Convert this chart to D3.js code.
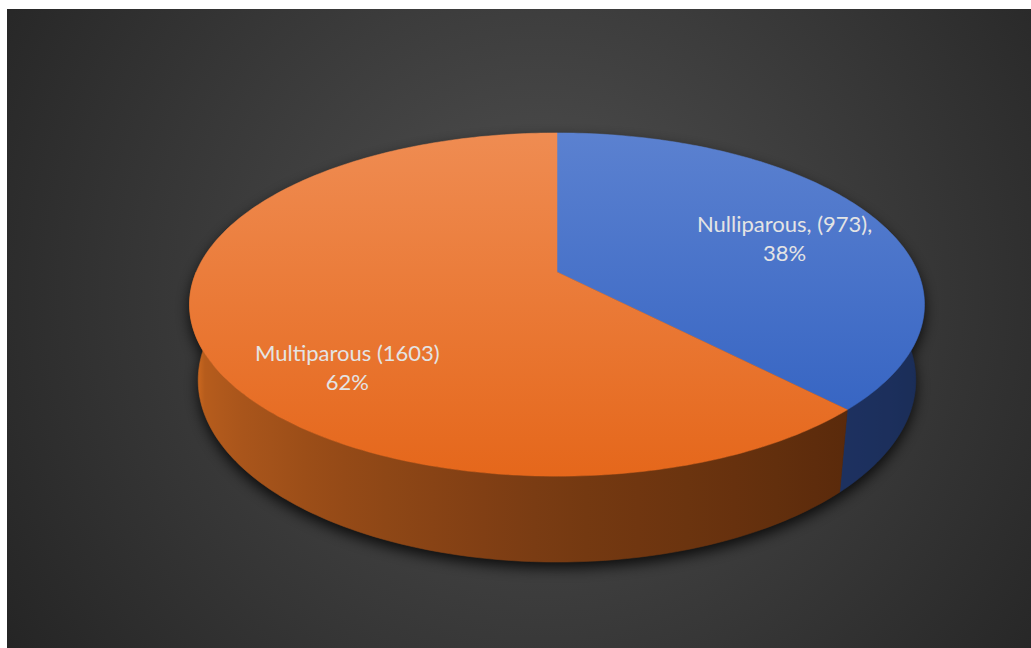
<!DOCTYPE html>
<html>
<head>
<meta charset="utf-8">
<script src="https://cdn.jsdelivr.net/npm/d3@7"></script>
<style>
  html, body { margin: 0; padding: 0; background: #ffffff; }
  svg { display: block; }
  text { font-family: Lato, "Noto Sans", sans-serif; }
</style>
</head>
<body>
<svg id="chart" width="1031" height="648"></svg>
<script>
// ---------------- data ----------------
const categories = ["Nulliparous", "Multiparous"];
const counts = [973, 1603];
const labelFirstLines = ["Nulliparous, (973),", "Multiparous (1603)"];
const percentLabels = ["38%", "62%"];

// ---------------- layout / style ----------------
const W = 1031, H = 648;
const topColors = [["#5b81d0", "#2f5fc0"], ["#ef8c52", "#e5671b"]];
const sideColors = [
  { angles: [Math.PI / 2, 2.4], colors: ["#182a50", "#1d3160"] },
  { angles: [2.39, Math.PI, 3.93, 4.71], colors: ["#5a2a0b", "#773a12", "#a5531a", "#cf6a20"] }
];
// perspective camera (in units of pie radius)
const cam = { cx: 557, cy: 272, f: 1690.7, D: 4.686, phi: 27.3 * Math.PI / 180, h: 0.238 };
const labelLayout = [{ r: 0.715, dx: 0, dy: 2 }, { r: 0.6, dx: 0, dy: 50 }];

const svg = d3.select("#chart");
const defs = svg.append("defs");

// background
const bg = defs.append("radialGradient").attr("id", "bgGrad")
  .attr("gradientUnits", "userSpaceOnUse").attr("cx", 540).attr("cy", 290).attr("r", 640);
bg.append("stop").attr("offset", 0).attr("stop-color", "#515151");
bg.append("stop").attr("offset", 1).attr("stop-color", "#252525");
svg.append("rect").attr("x", 7).attr("y", 9).attr("width", W - 7).attr("height", H - 9)
  .attr("fill", "url(#bgGrad)");

// projection
const s = Math.sin(cam.phi), c = Math.cos(cam.phi);
function project(theta, r, y) {
  const X = r * Math.sin(theta), Z = -r * Math.cos(theta), Y = y;
  const u = X, v = Y * c - Z * s, w = cam.D - Y * s - Z * c;
  return [cam.cx + cam.f * u / w, cam.cy - cam.f * v / w];
}
function arcPoints(a0, a1, r, y) {
  const n = Math.max(2, Math.ceil(Math.abs(a1 - a0) / (Math.PI / 180)));
  return d3.range(n + 1).map(i => project(a0 + (a1 - a0) * i / n, r, y));
}

const pie = d3.pie().sort(null).startAngle(0).endAngle(2 * Math.PI);
const arcs = pie(counts);
const line = d3.line();

// shadow
const shadowFilter = defs.append("filter").attr("id", "shadow")
  .attr("x", "-20%").attr("y", "-20%").attr("width", "140%").attr("height", "140%");
shadowFilter.append("feGaussianBlur").attr("stdDeviation", 7);
const fullBottom = arcPoints(0, 2 * Math.PI, 1.0, -cam.h);
const fullTop = arcPoints(0, 2 * Math.PI, 1.0, 0);
const sg = svg.append("g").attr("filter", "url(#shadow)").attr("opacity", 0.8)
  .attr("transform", "translate(0,6)");
sg.append("path").attr("d", line(fullBottom) + "Z").attr("fill", "#000");
sg.append("path").attr("d", line(fullTop) + "Z").attr("fill", "#000");

// sides (front half only)
const sideG = svg.append("g");
arcs.forEach((a, i) => {
  const a0 = Math.max(a.startAngle, Math.PI / 2);
  const a1 = Math.min(a.endAngle, 3 * Math.PI / 2);
  if (a1 <= a0) return;
  const topPts = arcPoints(a0, a1, 1, 0);
  const botPts = arcPoints(a0, a1, 1, -cam.h).reverse();
  const cs = d3.scaleLinear().domain(sideColors[i].angles).range(sideColors[i].colors).clamp(true);
  const xs = topPts.map(p => p[0]);
  const xmin = d3.min(xs), xmax = d3.max(xs);
  const g = defs.append("linearGradient").attr("id", "side" + i)
    .attr("gradientUnits", "userSpaceOnUse").attr("x1", xmin).attr("x2", xmax).attr("y1", 0).attr("y2", 0);
  const samples = d3.range(0, 21).map(k => a0 + (a1 - a0) * k / 20)
    .map(t => ({ x: project(t, 1, 0)[0], col: cs(t) }))
    .sort((p, q) => p.x - q.x);
  samples.forEach(p => g.append("stop").attr("offset", (p.x - xmin) / (xmax - xmin)).attr("stop-color", p.col));
  sideG.append("path").attr("d", line(topPts.concat(botPts)) + "Z")
    .attr("fill", `url(#side${i})`).attr("stroke", `url(#side${i})`).attr("stroke-width", 0.6);
});

// top faces
const topG = svg.append("g");
arcs.forEach((a, i) => {
  const g = defs.append("linearGradient").attr("id", "top" + i)
    .attr("gradientUnits", "userSpaceOnUse").attr("x1", 0).attr("x2", 0)
    .attr("y1", project(0, 1, 0)[1]).attr("y2", project(Math.PI, 1, 0)[1]);
  g.append("stop").attr("offset", 0).attr("stop-color", topColors[i][0]);
  g.append("stop").attr("offset", 1).attr("stop-color", topColors[i][1]);
  const pts = [project(0, 0, 0)].concat(arcPoints(a.startAngle, a.endAngle, 1, 0));
  topG.append("path").attr("d", line(pts) + "Z")
    .attr("fill", `url(#top${i})`).attr("stroke", `url(#top${i})`).attr("stroke-width", 0.5);
});

// labels
const labG = svg.append("g");
arcs.forEach((a, i) => {
  const mid = (a.startAngle + a.endAngle) / 2;
  const p = project(mid, labelLayout[i].r, 0);
  const x = p[0] + labelLayout[i].dx, y = p[1] + labelLayout[i].dy;
  const t = labG.append("text").attr("x", x).attr("y", y).attr("text-anchor", "middle")
    .attr("fill", "#e4e4e4").attr("font-size", 22);
  t.append("tspan").attr("x", x).attr("dy", 0).text(labelFirstLines[i]);
  t.append("tspan").attr("x", x).attr("dy", 29).text(percentLabels[i]);
});
</script>
</body>
</html>
